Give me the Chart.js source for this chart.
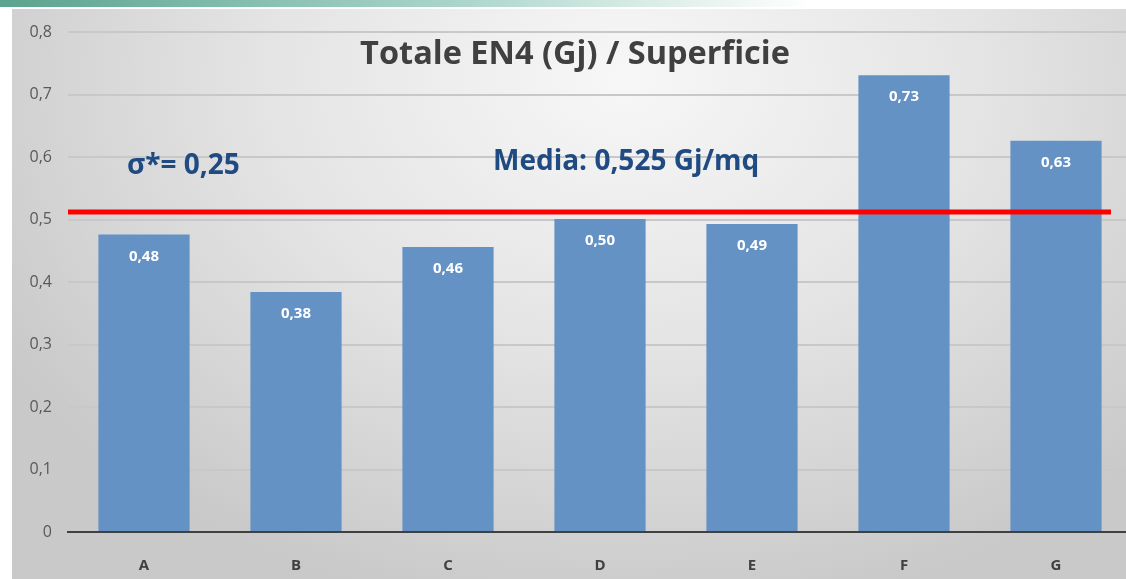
<!DOCTYPE html>
<html>
<head>
<meta charset="utf-8">
<script src="https://cdn.jsdelivr.net/npm/chart.js@4/dist/chart.umd.min.js"></script>
<style>
    html, body { margin: 0; padding: 0; width: 1126px; height: 579px; overflow: hidden; background: #fff; }
    #strip { position: absolute; left: 0; top: 0; width: 1126px; height: 7px;
        background: linear-gradient(to right, #5aa38c 0%, #a9d5c9 40%, #e6f2ee 62%, #ffffff 72%); }
    #panel { position: absolute; left: 12px; top: 9px; width: 1114px; height: 570px;
        background: radial-gradient(ellipse 65% 95% at 55% 12%, #f7f7f7 0%, #e4e4e4 50%, #c9c9c9 100%); }
    #wrap { position: absolute; left: 0; top: 0; width: 1132px; height: 579px; }
    .txt { position: absolute; font-family: "Open Sans", Lato, sans-serif; font-weight: bold; white-space: nowrap;
        font-variant-ligatures: none; line-height: 1; }
    #title { left: 0; width: 1150px; top: 36px; text-align: center; font-size: 32.5px; color: #404040; }
    #sigma { left: 127px; top: 149px; font-size: 28px; color: #1f4a82; }
    #media { left: 493px; top: 145px; font-size: 28px; color: #1f4a82; }
</style>
</head>
<body>
<div id="strip"></div>
<div id="panel"></div>
<div id="wrap"><canvas id="chart" width="1132" height="579"></canvas></div>
<div class="txt" id="title">Totale EN4 (Gj) / Superficie</div>
<div class="txt" id="sigma">σ*= 0,25</div>
<div class="txt" id="media">Media: 0,525 Gj/mq</div>
<script>
    const categories = ["A", "B", "C", "D", "E", "F", "G"];
    const values = [0.476, 0.384, 0.456, 0.501, 0.493, 0.731, 0.626];
    const yTicks = [0, 0.1, 0.2, 0.3, 0.4, 0.5, 0.6, 0.7, 0.8];
    const redLineValue = 0.512; // where the average line sits in the picture

    function comma(v, digits) {
        return v === 0 ? "0" : v.toFixed(digits).replace(".", ",");
    }

    const barLabels = {
        id: "barLabels",
        afterDatasetsDraw(chart) {
            const ctx = chart.ctx;
            ctx.save();
            ctx.fillStyle = "#ffffff";
            ctx.font = "bold 15px 'Open Sans', Lato, sans-serif";
            ctx.textAlign = "center";
            ctx.textBaseline = "middle";
            chart.getDatasetMeta(0).data.forEach((bar, i) => {
                ctx.fillText(comma(values[i], 2), bar.x, bar.y + 22);
            });
            ctx.restore();
        }
    };

    const redLine = {
        id: "redLine",
        afterDatasetsDraw(chart) {
            const ctx = chart.ctx;
            const y = chart.scales.y.getPixelForValue(redLineValue);
            ctx.save();
            ctx.strokeStyle = "#ff0000";
            ctx.lineWidth = 5;
            ctx.beginPath();
            ctx.moveTo(chart.chartArea.left, y);
            ctx.lineTo(chart.chartArea.right - 21, y);
            ctx.stroke();
            ctx.restore();
        }
    };

    new Chart(document.getElementById("chart"), {
        type: "bar",
        data: {
            labels: categories,
            datasets: [{
                data: values,
                backgroundColor: "#6592c5",
                barPercentage: 0.6,
                categoryPercentage: 1.0
            }]
        },
        options: {
            responsive: false,
            animation: false,
            layout: { padding: { top: 32, left: 0, right: 0, bottom: 0 } },
            plugins: { legend: { display: false }, tooltip: { enabled: false } },
            scales: {
                x: {
                    grid: { display: false },
                    border: { display: true, color: "#404040", width: 2 },
                    ticks: {
                        color: "#404040",
                        padding: 17,
                        font: { family: "'Open Sans', Lato, sans-serif", size: 15, weight: "bold" }
                    },
                    afterFit: scale => { scale.height = 47; }
                },
                y: {
                    min: 0,
                    max: 0.8,
                    afterBuildTicks: scale => { scale.ticks = yTicks.map(v => ({ value: v })); },
                    grid: { color: "#c8c8c8", lineWidth: 2, drawTicks: false },
                    border: { display: false },
                    ticks: {
                        color: "#595959",
                        padding: 16,
                        font: { family: "'Open Sans', Lato, sans-serif", size: 16 },
                        callback: v => comma(v, 1)
                    },
                    afterFit: scale => { scale.width = 68; }
                }
            }
        },
        plugins: [barLabels, redLine]
    });
</script>
</body>
</html>
